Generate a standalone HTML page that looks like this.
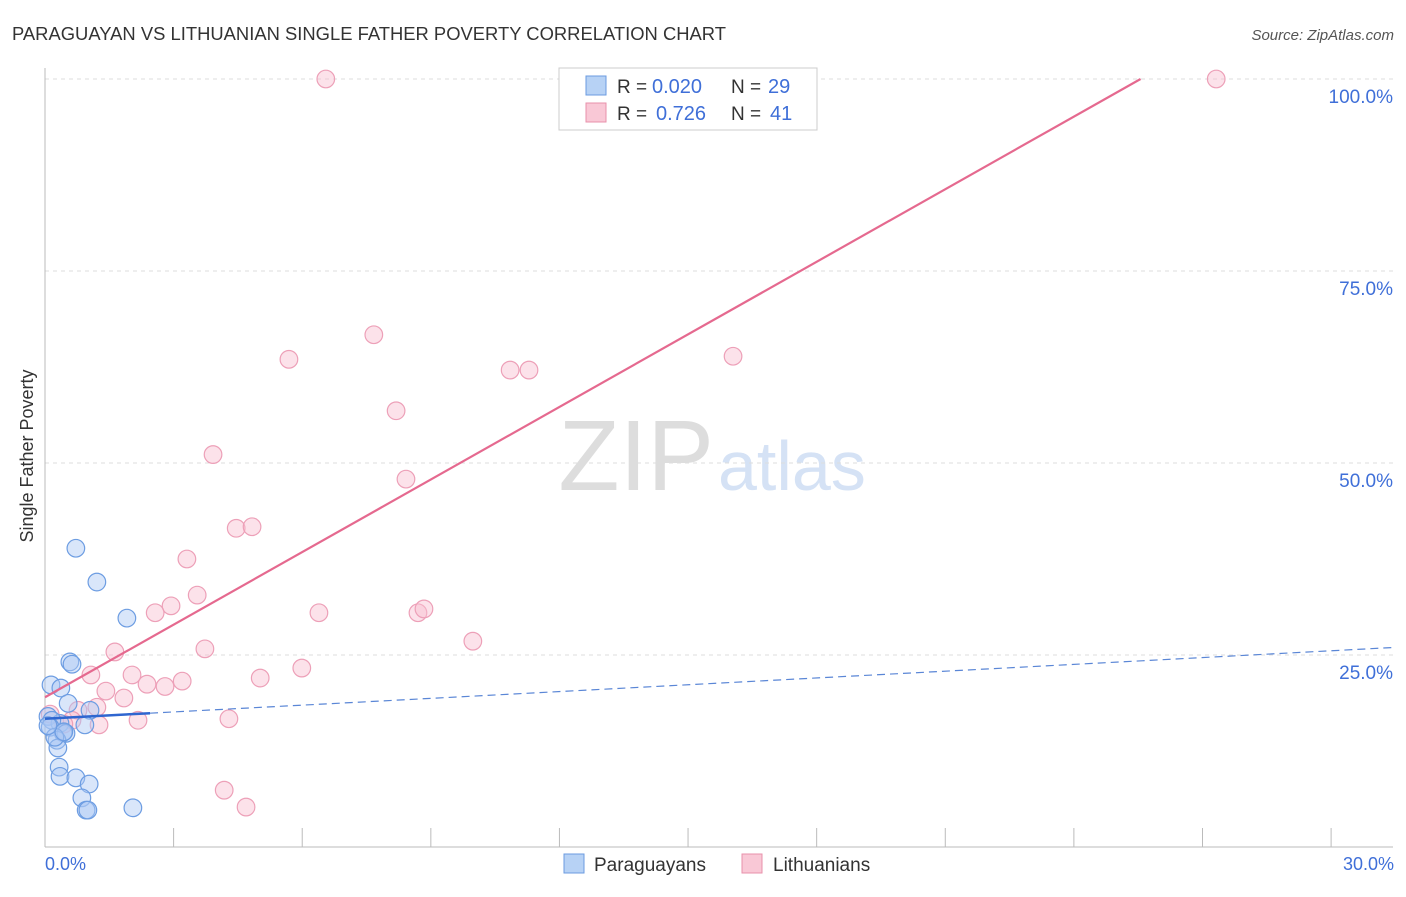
<!DOCTYPE html>
<html><head><meta charset="utf-8"><style>
body{margin:0;background:#fff;font-family:"Liberation Sans",sans-serif}
svg text{font-family:"Liberation Sans",sans-serif}
</style></head><body>
<svg width="1406" height="892">
<text x="12" y="40" font-size="18" fill="#333" textLength="714" lengthAdjust="spacingAndGlyphs">PARAGUAYAN VS LITHUANIAN SINGLE FATHER POVERTY CORRELATION CHART</text>
<text x="1394" y="40" font-size="15" fill="#555" text-anchor="end" font-style="italic">Source: ZipAtlas.com</text>
<text x="714" y="490" font-size="100" fill="#ddd" text-anchor="end" font-family="Liberation Serif">ZIP</text>
<text x="718" y="490" font-size="70" fill="#d5e2f5">atlas</text>
<g id="grid"></g>
<line x1="45" y1="68" x2="45" y2="847" stroke="#bbb"/>
<line x1="45" y1="847" x2="1393" y2="847" stroke="#bbb"/>
<g id="xt"></g>
<text x="33" y="456" font-size="18" fill="#333" text-anchor="middle" transform="rotate(-90 33 456)">Single Father Poverty</text>
<text x="45" y="870" font-size="18" fill="#3f6fd8">0.0%</text>
<text x="1394" y="870" font-size="18" fill="#3f6fd8" text-anchor="end">30.0%</text>
<g id="pts"></g>
<g id="lines"></g>
<g>
<rect x="559" y="68" width="258" height="62" fill="#fff" stroke="#ccc"/>
<rect x="586" y="76" width="20" height="19" fill="#b7d2f5" stroke="#6b9be0"/>
<rect x="586" y="103" width="20" height="19" fill="#f9c8d6" stroke="#e891ab"/>
<text x="617" y="93" font-size="19" fill="#333">R =</text>
<text x="652" y="93" font-size="20" fill="#3f6fd8">0.020</text>
<text x="731" y="93" font-size="19" fill="#333">N =</text>
<text x="768" y="93" font-size="20" fill="#3f6fd8">29</text>
<text x="617" y="120" font-size="19" fill="#333">R =</text>
<text x="656" y="120" font-size="20" fill="#3f6fd8">0.726</text>
<text x="731" y="120" font-size="19" fill="#333">N =</text>
<text x="770" y="120" font-size="20" fill="#3f6fd8">41</text>
</g>
<g>
<rect x="564" y="854" width="20" height="19" fill="#b7d2f5" stroke="#6b9be0"/>
<text x="594" y="871" font-size="19" fill="#333">Paraguayans</text>
<rect x="742" y="854" width="20" height="19" fill="#f9c8d6" stroke="#e891ab"/>
<text x="773" y="871" font-size="19" fill="#333">Lithuanians</text>
</g>
</svg>
<script>
const yTicks=[25,50,75,100];
const xTicks=[0,3,6,9,12,15,18,21,24,27,30];
const blueX=[0.72,1.21,1.91,0.58,0.63,0.14,0.37,0.54,1.05,0.07,0.35,0.93,0.16,0.12,0.42,0.49,0.28,0.3,0.33,0.35,0.72,1.03,0.86,0.96,1.0,2.05,0.23,0.44,0.07];
const blueY=[38.9,34.5,29.8,24.1,23.8,21.1,20.7,18.7,17.8,17.0,16.1,15.9,16.5,15.6,14.9,14.8,13.9,12.9,10.4,9.2,9.0,8.2,6.4,4.8,4.8,5.1,14.3,15.0,15.8];
const pinkX=[6.55,27.32,7.67,5.69,16.05,10.85,11.29,8.19,3.92,8.42,4.46,4.83,3.31,3.55,2.94,2.57,6.39,8.7,8.84,9.98,3.73,1.63,5.99,1.07,2.03,3.2,2.38,2.8,1.42,1.84,5.02,1.21,0.77,0.63,0.44,0.12,1.26,2.17,4.29,4.18,4.69];
const pinkY=[100,100,66.7,63.5,63.9,62.1,62.1,56.8,51.1,47.9,41.5,41.7,37.5,32.8,31.4,30.5,30.5,30.5,31.0,26.8,25.8,25.4,23.3,22.4,22.4,21.6,21.2,20.9,20.3,19.4,22.0,18.2,17.8,16.5,16.0,17.3,15.9,16.5,16.7,7.4,5.2];
const pinkLine=[19.5,3.15];
const blueLine=[16.7,0.295];
const NS="http://www.w3.org/2000/svg";
const X=v=>45+v*42.87, Y=v=>847-v*7.68;
function mk(t,a,p){const e=document.createElementNS(NS,t);for(const k in a)e.setAttribute(k,a[k]);p.appendChild(e);return e;}
const grid=document.getElementById('grid');
yTicks.forEach(t=>{
 const l=mk('line',{x1:45,x2:1393,y1:Y(t),y2:Y(t),stroke:'#ddd','stroke-dasharray':'4,4'},grid);
 
 
 const tx=mk('text',{x:1393,y:Y(t)+24,'font-size':19,fill:'#3f6fd8','text-anchor':'end'},grid);
 tx.textContent=t.toFixed(1)+'%';
 
 
});
const xt=document.getElementById('xt');
xTicks.forEach(t=>{
 const l=mk('line',{x1:X(t),x2:X(t),y1:828,y2:847,stroke:'#bbb'},xt);
 
 
});
const pts=document.getElementById('pts');
pinkX.forEach((x,i)=>{
 const c=mk('circle',{cx:X(x),cy:Y(pinkY[i]),r:8.8,fill:'rgba(248,190,208,0.45)',stroke:'#eda0b8','stroke-width':1.2},pts);
 
 
});
blueX.forEach((x,i)=>{
 const c=mk('circle',{cx:X(x),cy:Y(blueY[i]),r:8.8,fill:'rgba(170,200,245,0.45)',stroke:'#6d9de2','stroke-width':1.2},pts);
 
 
});
const lines=document.getElementById('lines');
const xEnd=(100-pinkLine[0])/pinkLine[1];
const pl=mk('line',{x1:X(0),y1:Y(pinkLine[0]),x2:X(xEnd),y2:Y(100),stroke:'#e5698f','stroke-width':2.2},lines);


const bs=mk('line',{x1:X(0),y1:Y(blueLine[0]),x2:X(2.45),y2:Y(blueLine[0]+blueLine[1]*2.45),stroke:'#2f66d0','stroke-width':2.5},lines);


const bd=mk('line',{x1:X(2.45),y1:Y(blueLine[0]+blueLine[1]*2.45),x2:X(31.45),y2:Y(blueLine[0]+blueLine[1]*31.45),stroke:'#5a86d6','stroke-width':1.2,'stroke-dasharray':'8,5'},lines);


</script>
</body></html>
